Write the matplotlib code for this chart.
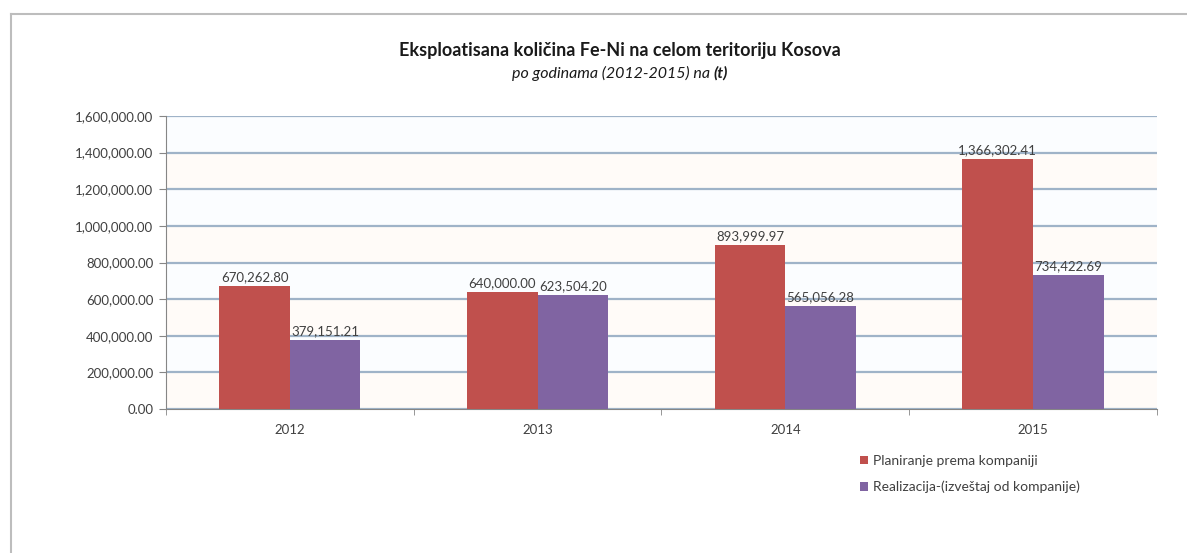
import matplotlib
matplotlib.use("agg")
import matplotlib.pyplot as plt
from matplotlib.lines import Line2D
from matplotlib.ticker import FuncFormatter, FixedLocator
import numpy as np

years = ["2012", "2013", "2014", "2015"]
planirano = [670262.80, 640000.00, 893999.97, 1366302.41]
realizacija = [379151.21, 623504.20, 565056.28, 734422.69]
labels = ["Planiranje prema kompaniji", "Realizacija-(izveštaj od kompanije)"]
yticks = [0, 200000, 400000, 600000, 800000, 1000000, 1200000, 1400000, 1600000]

plt.rcParams['font.family'] = ['Lato', 'DejaVu Sans']

fig = plt.figure(figsize=(11.87, 5.53), dpi=100)
ax = fig.add_axes([0.1398, 0.2604, 0.8349, 0.5298])

x = np.arange(len(years))
w = 0.285
red = "#c0504d"
purple = "#8064a2"
txt = "#404040"

# very faint stripes between gridlines
for i in range(len(yticks) - 1):
    ax.axhspan(yticks[i], yticks[i + 1], color="#fffbf8" if i % 2 == 0 else "#fbfdff", zorder=0, lw=0)

b1 = ax.bar(x - w / 2, planirano, w, color=red, zorder=3, label=labels[0])
b2 = ax.bar(x + w / 2, realizacija, w, color=purple, zorder=3, label=labels[1])

for bars in (b1, b2):
    for b in bars:
        v = b.get_height()
        ax.text(b.get_x() + b.get_width() / 2, v + 15000, "{:,.2f}".format(v),
                ha="center", va="bottom", fontsize=9.5, color=txt, zorder=4)

ax.set_xlim(-0.5, len(years) - 0.5)
ax.set_ylim(0, 1600000)
ax.set_yticks(yticks)
ax.yaxis.set_major_formatter(FuncFormatter(lambda v, p: "{:,.2f}".format(v)))
ax.set_xticks(x)
ax.set_xticklabels(years)
ax.xaxis.set_minor_locator(FixedLocator(np.arange(-0.5, len(years), 1.0)))
ax.tick_params(axis="x", which="major", length=0, labelsize=9.5, colors=txt, pad=11)
ax.tick_params(axis="x", which="minor", length=4, color="#868686")
ax.tick_params(axis="y", length=5, color="#868686", labelsize=9.5, labelcolor=txt, pad=4)

ax.grid(axis="y", color="#9fb3c8", lw=1.6, zorder=1)
ax.set_axisbelow(True)
for s in ("top", "right"):
    ax.spines[s].set_visible(False)
ax.spines["left"].set_color("#868686")
ax.spines["bottom"].set_color("#868686")

fig.text(0.522, 0.908, "Eksploatisana količina Fe-Ni na celom teritoriju Kosova",
         ha="center", va="center", fontsize=13, fontweight="bold", color="#1a1a1a")

# subtitle: italic part plus bold italic "(t)"
renderer = fig.canvas.get_renderer()
s1 = fig.text(0, 0.868, "po godinama (2012-2015) na ", ha="left", va="center",
              fontsize=11.5, style="italic", color="#1a1a1a")
s2 = fig.text(0, 0.868, "(t)", ha="left", va="center", fontsize=11.5,
              style="italic", fontweight="bold", color="#1a1a1a")
w1 = s1.get_window_extent(renderer).width
w2 = s2.get_window_extent(renderer).width
x0 = 0.522 * fig.bbox.width - (w1 + w2) / 2
s1.set_x(x0 / fig.bbox.width)
s2.set_x((x0 + w1) / fig.bbox.width)

fig.legend(handles=[b1, b2], labels=labels, loc="upper left",
           bbox_to_anchor=(0.714, 0.2), frameon=False, fontsize=10,
           handlelength=0.55, handleheight=0.55, handletextpad=0.4, labelspacing=1.0,
           labelcolor=txt)

# outer chart frame
fig.add_artist(Line2D([11 / 1187, 11 / 1187], [0, 1 - 14 / 553], color="#bdbdbd", lw=1.5))
fig.add_artist(Line2D([11 / 1187, 1.0], [1 - 14 / 553, 1 - 14 / 553], color="#bdbdbd", lw=1.5))

fig.savefig("out.png", dpi=100)
